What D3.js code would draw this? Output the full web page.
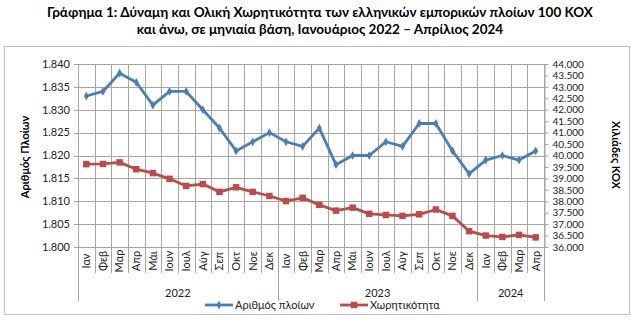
<!DOCTYPE html>
<html>
<head>
<meta charset="utf-8">
<script src="https://cdn.jsdelivr.net/npm/d3@7"></script>
<style>
  html, body { margin: 0; padding: 0; background: #fff; }
  svg { display: block; font-family: Lato, "Open Sans", sans-serif; }
</style>
</head>
<body>
<svg id="chart" width="637" height="323"></svg>
<script>
// Monthly series, January 2022 – April 2024
const months = ["Ιαν","Φεβ","Μαρ","Απρ","Μάι","Ιουν","Ιουλ","Αύγ","Σεπ","Οκτ","Νοε","Δεκ",
                "Ιαν","Φεβ","Μαρ","Απρ","Μάι","Ιουν","Ιουλ","Αύγ","Σεπ","Οκτ","Νοε","Δεκ",
                "Ιαν","Φεβ","Μαρ","Απρ"];
const years = [
  { label: "2022", count: 12 },
  { label: "2023", count: 12 },
  { label: "2024", count: 4 }
];
// Number of ships (100 GT and over)
const ships = [1833,1834,1838,1836,1831,1834,1834,1830,1826,1821,1823,1825,
               1823,1822,1826,1818,1820,1820,1823,1822,1827,1827,1821,1816,
               1819,1820,1819,1821];
// Gross tonnage, thousand GT
const tonnage = [39620,39630,39700,39400,39230,38980,38670,38750,38410,38610,38410,38230,
                 38010,38150,37840,37590,37720,37450,37400,37360,37430,37640,37360,36690,
                 36500,36440,36530,36420];
const leftTicks = [1800,1805,1810,1815,1820,1825,1830,1835,1840];
const rightTicks = d3.range(36000, 44001, 500);
const seriesNames = ["Αριθμός πλοίων", "Χωρητικότητα"];

const blue = "#4a7ebb", red = "#be4b48", grid = "#a6a6a6";
const svg = d3.select("#chart");

const plot = { left: 78, right: 544, top: 64, bottom: 247 };
const fmt = d3.formatLocale({ decimal: ",", thousands: ".", grouping: [3], currency: ["", "€"] }).format(",d");

// Title
const title = svg.append("text").attr("text-anchor", "middle").attr("font-weight", "bold")
  .attr("font-size", 13.5).attr("fill", "#000");
title.append("tspan").attr("x", 320).attr("y", 17)
  .text("Γράφημα 1: Δύναμη και Ολική Χωρητικότητα των ελληνικών εμπορικών πλοίων 100 ΚΟΧ");
title.append("tspan").attr("x", 320).attr("y", 34)
  .text("και άνω, σε μηνιαία βάση, Ιανουάριος 2022 – Απρίλιος 2024");

// Chart frame
svg.append("rect").attr("x", 4.5).attr("y", 46.5).attr("width", 625).attr("height", 268)
  .attr("fill", "none").attr("stroke", "#bfbfbf");

const x = d3.scaleBand().domain(d3.range(months.length)).range([plot.left, plot.right]);
const yL = d3.scaleLinear().domain([1800, 1840]).range([plot.bottom, plot.top]);
const yR = d3.scaleLinear().domain([36000, 44000]).range([plot.bottom, plot.top]);

// Horizontal gridlines (left axis)
svg.append("g").selectAll("line").data(leftTicks).join("line")
  .attr("x1", plot.left - 4).attr("x2", plot.right)
  .attr("y1", d => Math.round(yL(d)) + 0.5).attr("y2", d => Math.round(yL(d)) + 0.5)
  .attr("stroke", grid);

// Vertical gridlines at category boundaries
const bounds = d3.range(months.length + 1).map(i => plot.left + i * x.step());
svg.append("g").selectAll("line").data(bounds).join("line")
  .attr("x1", d => Math.round(d) + 0.5).attr("x2", d => Math.round(d) + 0.5)
  .attr("y1", plot.top).attr("y2", plot.bottom)
  .attr("stroke", grid);

// Left axis labels
svg.append("g").selectAll("text").data(leftTicks).join("text")
  .attr("x", plot.left - 8).attr("y", d => yL(d)).attr("dy", "0.35em")
  .attr("text-anchor", "end").attr("font-size", 11).attr("fill", "#222")
  .text(d => fmt(d));

// Right axis with outward ticks
const rightAxis = d3.axisRight(yR).tickValues(rightTicks).tickSize(4).tickFormat(fmt);
const gR = svg.append("g").attr("transform", `translate(${plot.right + 0.5},0)`).call(rightAxis);
gR.select(".domain").attr("stroke", grid);
gR.selectAll(".tick line").attr("stroke", grid);
gR.selectAll(".tick text").attr("font-size", 10).attr("fill", "#222")
  .attr("font-family", "Lato, sans-serif").attr("x", 8);

// Category axis: month tick marks, month labels, year groups
const axisY = plot.bottom;
svg.append("line").attr("x1", plot.left).attr("x2", plot.right)
  .attr("y1", axisY + 0.5).attr("y2", axisY + 0.5).attr("stroke", grid);
svg.append("g").selectAll("line").data(bounds).join("line")
  .attr("x1", d => Math.round(d) + 0.5).attr("x2", d => Math.round(d) + 0.5)
  .attr("y1", axisY).attr("y2", axisY + 26).attr("stroke", grid);

svg.append("g").selectAll("text").data(months).join("text")
  .attr("transform", (d, i) => `translate(${x(i) + x.bandwidth() / 2},261) rotate(-90)`)
  .attr("text-anchor", "middle").attr("dy", "0.35em")
  .attr("font-size", 11).attr("fill", "#222")
  .text(d => d);

let start = 0;
const yearBounds = [0];
years.forEach(y => { start += y.count; yearBounds.push(start); });
svg.append("g").selectAll("line").data(yearBounds).join("line")
  .attr("x1", i => Math.round(plot.left + i * x.step()) + 0.5)
  .attr("x2", i => Math.round(plot.left + i * x.step()) + 0.5)
  .attr("y1", axisY).attr("y2", axisY + 54).attr("stroke", grid);
svg.append("g").selectAll("text").data(years).join("text")
  .attr("x", (d, i) => plot.left + (yearBounds[i] + d.count / 2) * x.step())
  .attr("y", 293).attr("dy", "0.35em")
  .attr("text-anchor", "middle").attr("font-size", 11).attr("fill", "#222")
  .text(d => d.label);

// Axis titles
svg.append("text").attr("transform", "translate(25,157) rotate(-90)")
  .attr("text-anchor", "middle").attr("dy", "0.35em")
  .attr("font-size", 11).attr("font-weight", "bold").attr("fill", "#000")
  .text("Αριθμός Πλοίων");
svg.append("text").attr("transform", "translate(616,155) rotate(90)")
  .attr("text-anchor", "middle").attr("dy", "0.35em")
  .attr("font-size", 11).attr("font-weight", "bold").attr("fill", "#000")
  .text("Χιλιάδες ΚΟΧ");

// Series
const cx = i => x(i) + x.bandwidth() / 2;
const diamond = d3.symbol().type(d3.symbolDiamond).size(22);
const square = d3.symbol().type(d3.symbolSquare).size(42);

svg.append("path").datum(tonnage)
  .attr("d", d3.line().x((d, i) => cx(i)).y(d => yR(d)))
  .attr("fill", "none").attr("stroke", red).attr("stroke-width", 2.8).attr("stroke-linejoin", "round");
svg.append("g").selectAll("path").data(tonnage).join("path")
  .attr("transform", (d, i) => `translate(${cx(i)},${yR(d)})`)
  .attr("d", square).attr("fill", red);

svg.append("path").datum(ships)
  .attr("d", d3.line().x((d, i) => cx(i)).y(d => yL(d)))
  .attr("fill", "none").attr("stroke", blue).attr("stroke-width", 2.8).attr("stroke-linejoin", "round");
svg.append("g").selectAll("path").data(ships).join("path")
  .attr("transform", (d, i) => `translate(${cx(i)},${yL(d)})`)
  .attr("d", diamond).attr("fill", blue);

// Legend
const legend = [
  { name: seriesNames[0], color: blue, sym: diamond, x: 205 },
  { name: seriesNames[1], color: red, sym: square, x: 340 }
];
const lg = svg.append("g").selectAll("g").data(legend).join("g")
  .attr("transform", d => `translate(${d.x},305)`);
lg.append("line").attr("x1", 0).attr("x2", 28).attr("stroke", d => d.color).attr("stroke-width", 2.8);
lg.append("path").attr("transform", "translate(14,0)").attr("d", d => d.sym()).attr("fill", d => d.color);
lg.append("text").attr("x", 30).attr("dy", "0.35em").attr("font-size", 11).attr("fill", "#222")
  .text(d => d.name);
</script>
</body>
</html>
